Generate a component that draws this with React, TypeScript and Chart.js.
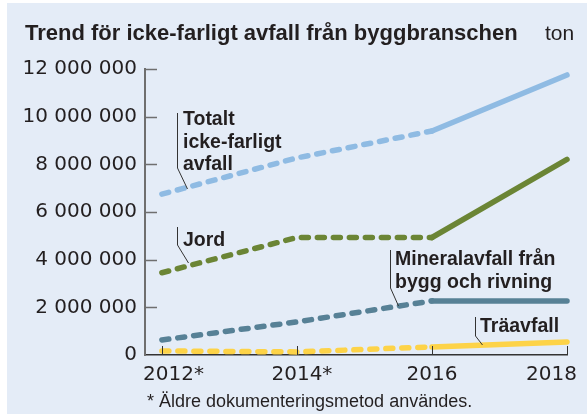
import { useEffect, useRef } from "react";
import { Chart, registerables } from "chart.js";

Chart.register(...registerables);

// ---- data ----
const years = [2012, 2014, 2016, 2018];
const xTickLabels = ["2012", "2014", "2016", "2018"];
const xTickSuffix = ["*", "*", "", ""];
const totalt = [6750000, 8270000, 9400000, 11750000];
const jord = [3450000, 4930000, 4930000, 8210000];
const mineral = [630000, 1390000, 2270000, 2270000];
const tra = [170000, 130000, 340000, 550000];
const yTickValues = [0, 2000000, 4000000, 6000000, 8000000, 10000000, 12000000];
const yTickLabels = ["0", "2 000 000", "4 000 000", "6 000 000", "8 000 000", "10 000 000", "12 000 000"];
const labelTotalt = ["Totalt", "icke-farligt", "avfall"];
const labelJord = ["Jord"];
const labelMineral = ["Mineralavfall från", "bygg och rivning"];
const labelTra = ["Träavfall"];
const titleText = "Trend för icke-farligt avfall från byggbranschen";
const unitText = "ton";
const footnoteText = "* Äldre dokumenteringsmetod användes.";

const TEXT = "#231f20";
const TICK_FONT = "20px 'DejaVu Sans', sans-serif";
const BOLD_LABEL = "bold 19.5px 'Liberation Sans', Arial, sans-serif";

const overlay = {
  id: "overlay",
  afterDatasetsDraw(chart: any) {
    const ctx = chart.ctx as CanvasRenderingContext2D;
    const area = chart.chartArea;
    const xs = chart.scales.x;
    const ys = chart.scales.y;
    ctx.save();
    // y tick marks (inward)
    ctx.strokeStyle = "#6f6f6f";
    ctx.lineWidth = 1.5;
    yTickValues.forEach((v) => {
      if (v === 0) return;
      const y = Math.round(ys.getPixelForValue(v)) + 0.5;
      ctx.beginPath();
      ctx.moveTo(area.left, y);
      ctx.lineTo(area.left + 12, y);
      ctx.stroke();
    });
    // x tick marks (inward)
    ctx.strokeStyle = "#333";
    ctx.lineWidth = 1;
    years.forEach((yr) => {
      const x = Math.round(xs.getPixelForValue(yr)) + 0.5;
      ctx.beginPath();
      ctx.moveTo(x, area.bottom);
      ctx.lineTo(x, area.bottom - 9);
      ctx.stroke();
    });
    // x labels
    ctx.fillStyle = TEXT;
    ctx.font = TICK_FONT;
    ctx.textBaseline = "alphabetic";
    ctx.textAlign = "left";
    years.forEach((yr, i) => {
      const px = xs.getPixelForValue(yr);
      const w = ctx.measureText(xTickLabels[i]).width;
      let x0 = px - w / 2;
      if (x0 < area.left - 2) x0 = area.left - 2;
      if (x0 + w > 570) x0 = 570 - w;
      ctx.fillText(xTickLabels[i] + xTickSuffix[i], x0, 377);
    });
    // title & unit
    ctx.font = "bold 22px 'Liberation Sans', Arial, sans-serif";
    ctx.fillText(titleText, 18, 37);
    ctx.font = "21px 'Liberation Sans', Arial, sans-serif";
    ctx.fillText(unitText, 538, 37);
    // footnote
    ctx.font = "18px 'Liberation Sans', Arial, sans-serif";
    ctx.fillText(footnoteText, 140, 404);

    // annotations
    const drawLabel = (lines: string[], tx: number, baselines: number[], leader: number[][]) => {
      ctx.strokeStyle = "#333";
      ctx.lineWidth = 1;
      ctx.beginPath();
      ctx.moveTo(leader[0][0] + 0.5, leader[0][1]);
      for (let k = 1; k < leader.length; k++) ctx.lineTo(leader[k][0] + 0.5, leader[k][1]);
      ctx.stroke();
      ctx.font = BOLD_LABEL;
      ctx.fillStyle = TEXT;
      lines.forEach((l, k) => ctx.fillText(l, tx, baselines[k]));
    };
    drawLabel(labelTotalt, 176, [122, 145, 167], [[170, 110], [170, 165], [180, 186]]);
    drawLabel(labelJord, 176, [243], [[170, 224], [170, 242], [181, 260]]);
    drawLabel(labelMineral, 388, [262, 285], [[383, 247], [383, 285], [391, 303]]);
    drawLabel(labelTra, 473, [329], [[468, 314], [468, 333], [475, 342]]);
    ctx.restore();
  },
};

function makeDataset(values: number[], color: string) {
  return {
    data: values.map((v, i) => ({ x: years[i], y: v })),
    borderColor: color,
    backgroundColor: color,
    borderWidth: 5.5,
    borderCapStyle: "round" as const,
    borderJoinStyle: "round" as const,
    pointRadius: 0,
    tension: 0,
    clip: false as any,
    segment: {
      borderDash: (c: any) => (c.p1DataIndex <= 2 ? [7, 9] : undefined),
    },
  };
}

export default function App() {
  const ref = useRef<HTMLCanvasElement | null>(null);
  useEffect(() => {
    if (!ref.current) return;
    const chart = new Chart(ref.current, {
      type: "line",
      data: {
        datasets: [
          makeDataset(tra, "#fdd348"),
          makeDataset(mineral, "#578196"),
          makeDataset(jord, "#6b8535"),
          makeDataset(totalt, "#8fbbe3"),
        ],
      },
      options: {
        animation: false,
        responsive: false,
        devicePixelRatio: 1,
        layout: { padding: { top: 66, right: 20, left: 0, bottom: 0 } },
        plugins: { legend: { display: false }, tooltip: { enabled: false }, title: { display: false } },
        scales: {
          x: {
            type: "linear",
            min: 2011.75,
            max: 2018,
            grid: { display: false, drawTicks: false },
            border: { display: true, color: "#333", width: 1.5 },
            ticks: { display: false },
            afterFit: (s: any) => {
              s.height = 59;
            },
          },
          y: {
            type: "linear",
            min: 0,
            max: 12000000,
            grid: { display: false, drawTicks: false },
            border: { display: true, color: "#6f6f6f", width: 2 },
            afterBuildTicks: (s: any) => {
              s.ticks = yTickValues.map((v) => ({ value: v }));
            },
            ticks: {
              padding: 8,
              color: TEXT,
              font: { family: "'DejaVu Sans', sans-serif", size: 20 },
              callback: (_v: any, i: number) => yTickLabels[i],
            },
            afterFit: (s: any) => {
              s.width = 138;
            },
          },
        },
      },
      plugins: [overlay],
    });
    return () => chart.destroy();
  }, []);
  return (
    <div style={{ position: "fixed", left: 0, top: 0, width: 587, height: 414, background: "#ffffff" }}>
      <div style={{ position: "absolute", left: 7, top: 3, width: 580, height: 411, background: "#e4ecf7" }}>
        <canvas ref={ref} width={580} height={411} style={{ display: "block" }} />
      </div>
    </div>
  );
}
